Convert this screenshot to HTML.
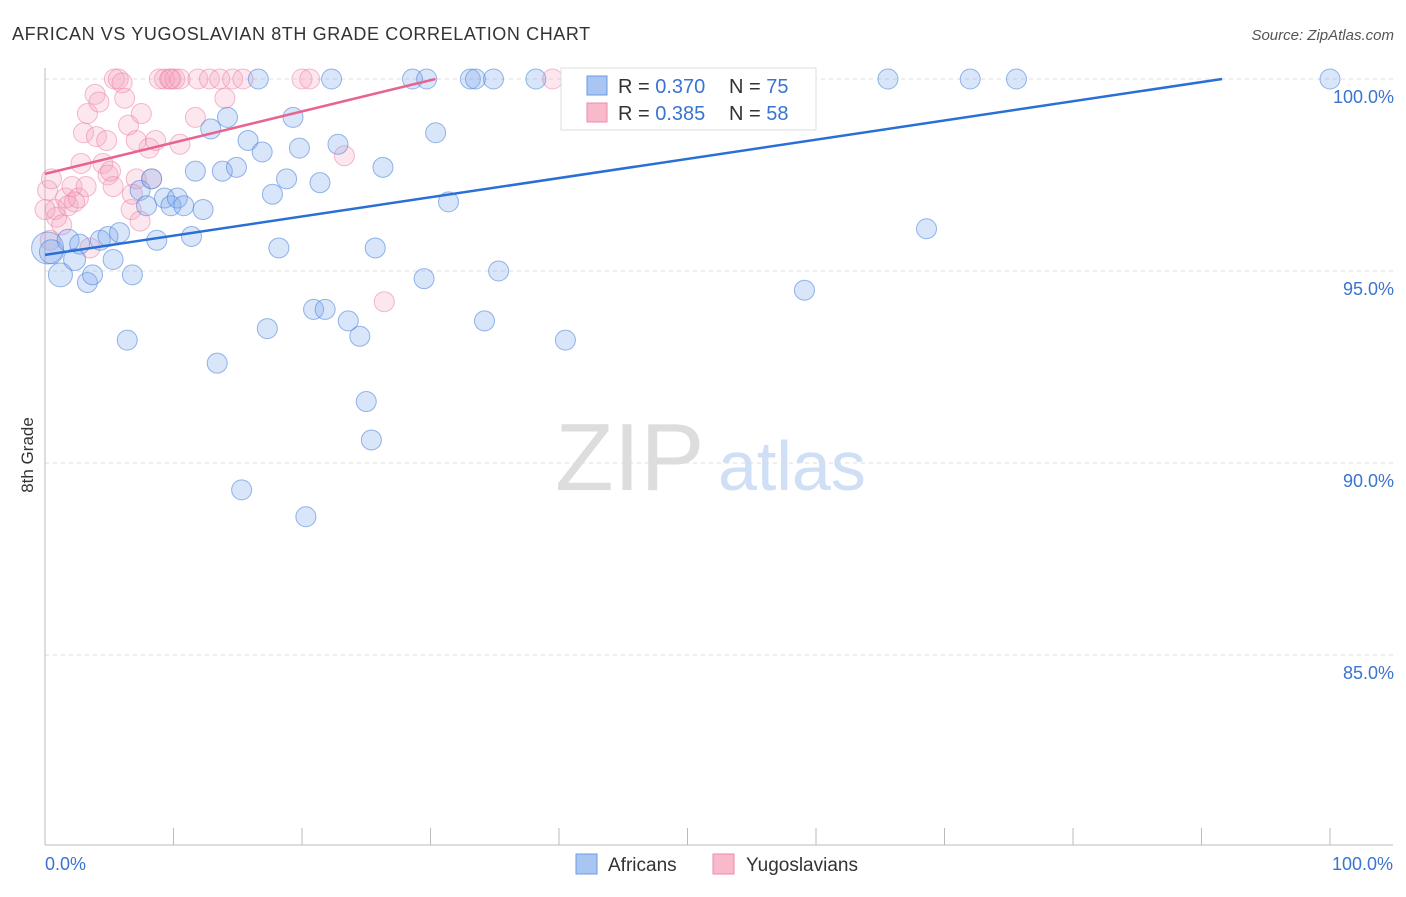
<!DOCTYPE html>
<html><head><meta charset="utf-8"><style>
body{margin:0;background:#fff;font-family:"Liberation Sans",sans-serif;}
svg text{font-family:"Liberation Sans",sans-serif;}
</style></head><body>
<svg id="chart" width="1406" height="892">
<text x="12" y="40" font-size="18" fill="#333" letter-spacing="0.6">AFRICAN VS YUGOSLAVIAN 8TH GRADE CORRELATION CHART</text>
<text x="1394" y="40" font-size="15" fill="#555" font-style="italic" text-anchor="end">Source: ZipAtlas.com</text>
<text x="33" y="455" font-size="17" fill="#333" text-anchor="middle" transform="rotate(-90 33 455)">8th Grade</text>
<text x="555" y="490" font-size="96" fill="#ddd" font-family="Liberation Serif">ZIP</text>
<text x="718" y="490" font-size="70" fill="#cfdff5">atlas</text>
<g id="grid"></g><g id="axes"></g><g id="pink"></g><g id="blue"></g><g id="lines"></g>
<g>
<rect x="561" y="68" width="255" height="62" fill="#fff" stroke="#ddd"/>
<rect x="587" y="76" width="20" height="19" fill="#a9c6f2" stroke="#6c9be3"/>
<rect x="587" y="103" width="20" height="19" fill="#f8b9cb" stroke="#ec8aa8"/>
<text x="618" y="93" font-size="20" fill="#333">R = <tspan fill="#3b73d1">0.370</tspan></text>
<text x="729" y="93" font-size="20" fill="#333">N = <tspan fill="#3b73d1">75</tspan></text>
<text x="618" y="120" font-size="20" fill="#333">R = <tspan fill="#3b73d1">0.385</tspan></text>
<text x="729" y="120" font-size="20" fill="#333">N = <tspan fill="#3b73d1">58</tspan></text>
</g>
<g>
<rect x="576" y="854" width="21" height="20" fill="#a9c6f2" stroke="#6c9be3"/>
<text x="608" y="871" font-size="19" fill="#333">Africans</text>
<rect x="713" y="854" width="21" height="20" fill="#f8b9cb" stroke="#ec8aa8"/>
<text x="746" y="871" font-size="19" fill="#333">Yugoslavians</text>
</g>
<text x="45" y="870" font-size="18" fill="#3b73d1">0.0%</text>
<text x="1393" y="870" font-size="18" fill="#3b73d1" text-anchor="end">100.0%</text>
</svg>
<script>
const yTicks=[100,95,90,85];
const yTickLabels=["100.0%","95.0%","90.0%","85.0%"];
const xTicks=[0,10,20,30,40,50,60,70,80,90,100];
const blueX=[0.2,0.5,1.2,1.8,2.3,2.7,3.3,3.7,4.3,4.9,5.3,5.8,6.4,6.8,7.4,7.9,8.3,8.7,9.3,9.8,10.3,10.8,11.4,11.7,12.3,12.9,13.4,13.8,14.2,14.9,15.3,15.8,16.6,16.9,17.3,17.7,18.2,18.8,19.3,19.8,20.3,20.9,21.4,21.8,22.3,22.8,23.6,24.5,25.0,25.4,25.7,26.3,28.6,29.5,29.7,30.4,31.4,33.1,33.5,34.2,34.9,35.3,38.2,40.5,42.3,43.4,52.4,59.1,65.6,68.6,72.0,75.6,100];
const blueY=[95.6,95.5,94.9,95.8,95.3,95.7,94.7,94.9,95.8,95.9,95.3,96.0,93.2,94.9,97.1,96.7,97.4,95.8,96.9,96.7,96.9,96.7,95.9,97.6,96.6,98.7,92.6,97.6,99.0,97.7,89.3,98.4,100,98.1,93.5,97.0,95.6,97.4,99.0,98.2,88.6,94.0,97.3,94.0,100,98.3,93.7,93.3,91.6,90.6,95.6,97.7,100,94.8,100,98.6,96.8,100,100,93.7,100,95.0,100,93.2,100,100,100,94.5,100,96.1,100,100,100];
const blueR=[16,12,12,11,11,10,10,10,10,10,10,10,10,10,10,10,10,10,10,10,10,10,10,10,10,10,10,10,10,10,10,10,10,10,10,10,10,10,10,10,10,10,10,10,10,10,10,10,10,10,10,10,10,10,10,10,10,10,10,10,10,10,10,10,10,10,10,10,10,10,10,10,10];
const pinkX=[0.2,0.5,0.8,0.9,1.3,1.6,1.8,2.1,2.3,2.6,2.8,3.0,3.2,3.3,3.5,3.9,4.0,4.2,4.5,4.8,4.9,5.1,5.3,5.4,5.7,6.0,6.2,6.5,6.7,6.8,7.1,7.4,7.1,7.5,8.1,8.3,8.6,8.9,9.3,9.7,10.1,10.5,10.5,11.7,11.9,12.8,13.6,14.0,14.6,15.4,20.0,20.6,23.3,26.4,39.5,0.4,0.0,9.8];
const pinkY=[97.1,97.4,96.6,96.4,96.2,96.9,96.7,97.2,96.8,96.9,97.8,98.6,97.2,99.1,95.6,99.6,98.5,99.4,97.8,98.4,97.5,97.6,97.2,100,100,99.9,99.5,98.8,96.6,97.0,98.4,96.3,97.4,99.1,98.2,97.4,98.4,100,100,100,100,98.3,100,99.0,100,100,100,99.5,100,100,100,100,98.0,94.2,100,95.8,96.6,100];
const bluePoly=[95.42,0.05];
const pinkPoly=[97.53,0.0813];
const X0=45,XS=12.85,Y0=79,YS=38.4;
const sx=v=>X0+v*XS, sy=v=>Y0+(100-v)*YS;
const NS="http://www.w3.org/2000/svg";
function mk(tag,attrs,parent){const e=document.createElementNS(NS,tag);for(const k in attrs)e.setAttribute(k,attrs[k]);parent.appendChild(e);return e;}
const grid=document.getElementById('grid'),axes=document.getElementById('axes');
yTicks.forEach((t,i)=>{
 const l=mk('line',{x1:45,x2:1393,y1:sy(t),y2:sy(t),stroke:'#ddd','stroke-dasharray':'4,4'},grid);
 
 
 const tx=mk('text',{x:1394,y:sy(t)+24,'font-size':18,fill:'#3b73d1','text-anchor':'end'},grid);
 tx.textContent=yTickLabels[i];
 
 
});
const ya=mk('line',{x1:45,x2:45,y1:68,y2:845,stroke:'#bbb'},axes);


const xa=mk('line',{x1:45,x2:1393,y1:845,y2:845,stroke:'#bbb'},axes);


xTicks.forEach(t=>{
 const l=mk('line',{x1:sx(t),x2:sx(t),y1:828,y2:845,stroke:'#bbb'},axes);
 
 
});
function pts(xs,ys,rs,g,fill,stroke,name){
 xs.forEach((x,i)=>{
  const c=mk('circle',{cx:sx(x),cy:sy(ys[i]),r:rs?rs[i]:10,fill:fill,stroke:stroke,'stroke-width':1},g);
  
  
 });
}
pts(pinkX,pinkY,null,document.getElementById('pink'),'rgba(244,160,186,0.25)','rgba(236,130,165,0.55)','yugoslavian-point');
pts(blueX,blueY,blueR,document.getElementById('blue'),'rgba(130,170,235,0.3)','rgba(80,135,220,0.6)','african-point');
function trend(p,color,name){
 const xEnd=Math.min(100,(100-p[0])/p[1]);
 const l=mk('line',{x1:sx(0),y1:sy(p[0]),x2:sx(xEnd),y2:sy(p[0]+p[1]*xEnd),stroke:color,'stroke-width':2.5},document.getElementById('lines'));
 
 
}
trend(bluePoly,'#2a6fd6','african-trendline');
trend(pinkPoly,'#e8648f','yugoslavian-trendline');
</script>
</body></html>
